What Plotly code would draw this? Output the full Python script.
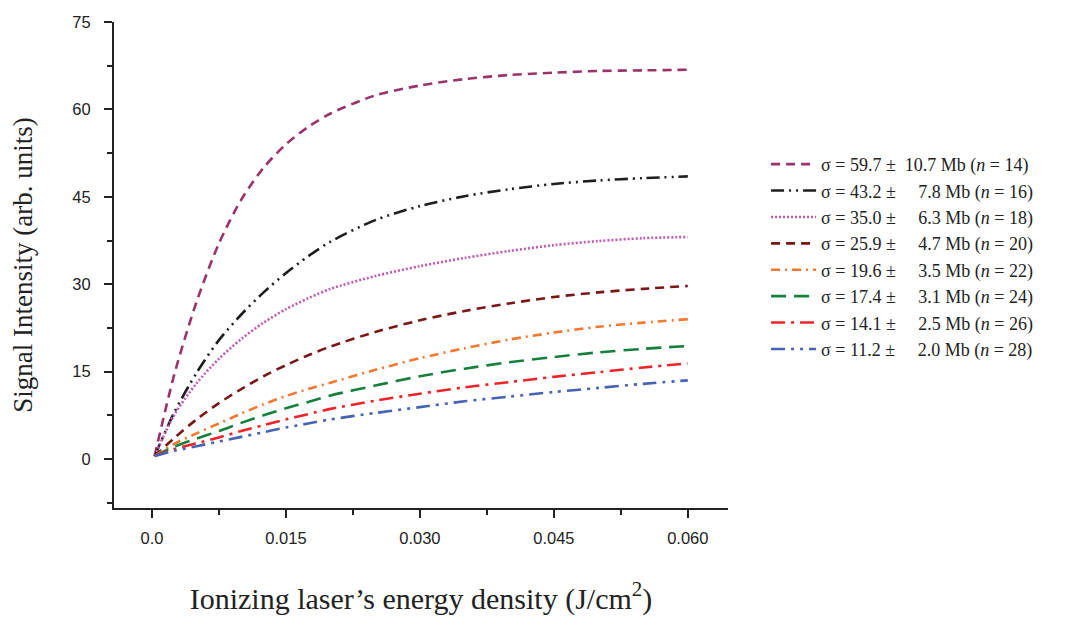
import plotly.graph_objects as go

# energy density (J/cm^2) sample points
x_vals = [0.0003, 0.0025, 0.005, 0.0075, 0.01, 0.0125, 0.015, 0.0175, 0.02,
          0.025, 0.03, 0.035, 0.04, 0.045, 0.05, 0.055, 0.06]

s_59_7 = [0.5, 14.5, 27.0, 37.0, 44.5, 50.0, 54.0, 57.0, 59.3, 62.4, 64.1, 65.2, 65.9, 66.3, 66.6, 66.7, 66.8]
s_43_2 = [0.5, 8.0, 14.8, 20.4, 24.8, 28.6, 31.9, 34.8, 37.3, 41.0, 43.4, 45.1, 46.3, 47.2, 47.8, 48.2, 48.5]
s_35_0 = [0.5, 7.6, 13.0, 17.2, 20.6, 23.4, 25.7, 27.6, 29.2, 31.4, 33.1, 34.5, 35.7, 36.7, 37.4, 37.9, 38.1]
s_25_9 = [0.5, 3.6, 6.8, 9.6, 12.0, 14.2, 16.1, 17.8, 19.3, 21.8, 23.8, 25.4, 26.7, 27.8, 28.6, 29.2, 29.7]
s_19_6 = [0.5, 2.6, 4.4, 6.1, 7.8, 9.4, 10.8, 12.0, 13.1, 15.3, 17.3, 19.0, 20.5, 21.7, 22.7, 23.4, 24.0]
s_17_4 = [0.5, 2.1, 3.5, 4.8, 6.2, 7.5, 8.7, 9.8, 10.9, 12.6, 14.2, 15.5, 16.6, 17.5, 18.3, 18.9, 19.4]
s_14_1 = [0.5, 1.7, 2.7, 3.7, 4.8, 5.8, 6.8, 7.7, 8.6, 10.0, 11.2, 12.3, 13.2, 14.1, 14.9, 15.7, 16.4]
s_11_2 = [0.5, 1.4, 2.2, 3.0, 3.8, 4.6, 5.4, 6.1, 6.8, 7.9, 8.9, 9.9, 10.7, 11.5, 12.2, 12.9, 13.5]

series = [s_59_7, s_43_2, s_35_0, s_25_9, s_19_6, s_17_4, s_14_1, s_11_2]
names = [
    "σ = 59.7 ±&nbsp; 10.7 Mb (<i>n</i> = 14)",
    "σ = 43.2 ±&nbsp; &nbsp;&nbsp;&nbsp;7.8 Mb (<i>n</i> = 16)",
    "σ = 35.0 ±&nbsp; &nbsp;&nbsp;&nbsp;6.3 Mb (<i>n</i> = 18)",
    "σ = 25.9 ±&nbsp; &nbsp;&nbsp;&nbsp;4.7 Mb (<i>n</i> = 20)",
    "σ = 19.6 ±&nbsp; &nbsp;&nbsp;&nbsp;3.5 Mb (<i>n</i> = 22)",
    "σ = 17.4 ±&nbsp; &nbsp;&nbsp;&nbsp;3.1 Mb (<i>n</i> = 24)",
    "σ = 14.1 ±&nbsp; &nbsp;&nbsp;&nbsp;2.5 Mb (<i>n</i> = 26)",
    "σ = 11.2 ±&nbsp; &nbsp;&nbsp;&nbsp;2.0 Mb (<i>n</i> = 28)",
]
colors = ["#9b336b", "#1e1e1e", "#c058b4", "#7a1616", "#f2772f", "#14803c", "#ee2328", "#4463b3"]
dashes = ["9px,6px", "13px,5px,2px,5px,2px,5px", "2px,2px", "9px,6px",
          "9px,5px,2px,5px", "15px,8px", "14px,6px,3px,6px", "14px,6px,3px,6px,3px,6px"]

x_tickvals = [0.0, 0.015, 0.03, 0.045, 0.06]
x_ticktext = ["0.0", "0.015", "0.030", "0.045", "0.060"]
y_tickvals = [0, 15, 30, 45, 60, 75]

fig = go.Figure()
for ys, nm, c, d in zip(series, names, colors, dashes):
    fig.add_trace(go.Scatter(x=x_vals, y=ys, name=nm, mode="lines",
                             line=dict(color=c, width=2.6, dash=d, shape="spline", smoothing=0.8)))

serif = "Liberation Serif, Times New Roman, serif"
axis_font = dict(family="Liberation Sans, Arial, sans-serif", size=16.5, color="#222")
fig.update_layout(
    width=1065, height=620,
    margin=dict(l=106, r=345, t=14, b=120),
    paper_bgcolor="white", plot_bgcolor="white",
    font=dict(family=serif, color="#222"),
    legend=dict(x=1.062, y=0.745, xanchor="left", yanchor="top",
                font=dict(family=serif, size=18, color="#222"),
                itemwidth=45, tracegroupgap=0, bgcolor="rgba(0,0,0,0)"),
    xaxis=dict(range=[-0.00425, 0.0645], tickvals=x_tickvals, ticktext=x_ticktext,
               automargin=False,
               showgrid=False, zeroline=False, showline=True, linecolor="#222", linewidth=2,
               ticks="outside", ticklen=8, tickwidth=2, tickcolor="#222", tickfont=axis_font,
               ticklabelstandoff=6,
               minor=dict(dtick=0.0075, tick0=0, ticks="outside", ticklen=5, tickwidth=2, tickcolor="#222"),
               title=dict(text="Ionizing laser’s energy density (J/cm<sup>2</sup>)",
                          font=dict(family=serif, size=30, color="#222"),
                          standoff=42)),
    yaxis=dict(range=[-8.41, 75], tickvals=y_tickvals,
               automargin=False,
               showgrid=False, zeroline=False, showline=True, linecolor="#222", linewidth=2,
               ticks="outside", ticklen=8, tickwidth=2, tickcolor="#222", tickfont=axis_font,
               ticklabelstandoff=10,
               minor=dict(dtick=7.5, tick0=0, ticks="outside", ticklen=5, tickwidth=2, tickcolor="#222"),
               title=dict(text="Signal Intensity (arb. units)",
                          font=dict(family=serif, size=27, color="#222"),
                          standoff=36)),
)

fig.write_html("out.html")
